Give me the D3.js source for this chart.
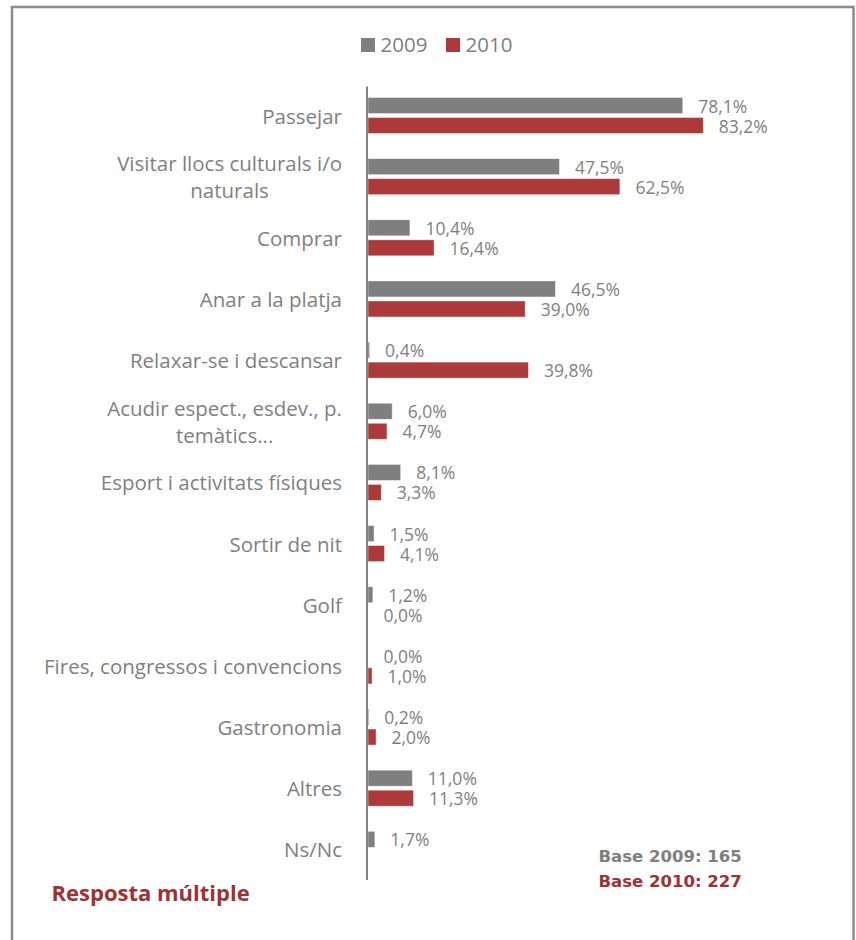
<!DOCTYPE html>
<html>
<head>
<meta charset="utf-8">
<script src="https://cdn.jsdelivr.net/npm/d3@7"></script>
<style>
  html, body { margin: 0; padding: 0; background: #fff; }
  svg { display: block; }
</style>
</head>
<body>
<script>
// Activitats realitzades durant l'estada (resposta múltiple), 2009 vs 2010
const categories = [
  "Passejar",
  "Visitar llocs culturals i/o\nnaturals",
  "Comprar",
  "Anar a la platja",
  "Relaxar-se i descansar",
  "Acudir espect., esdev., p.\ntemàtics...",
  "Esport i activitats físiques",
  "Sortir de nit",
  "Golf",
  "Fires, congressos i convencions",
  "Gastronomia",
  "Altres",
  "Ns/Nc"
];
const seriesNames = ["2009", "2010"];
const values2009 = [78.1, 47.5, 10.4, 46.5, 0.4, 6.0, 8.1, 1.5, 1.2, 0.0, 0.2, 11.0, 1.7];
const values2010 = [83.2, 62.5, 16.4, 39.0, 39.8, 4.7, 3.3, 4.1, 0.0, 1.0, 2.0, 11.3, null];
const baseNotes = ["Base 2009: 165", "Base 2010: 227"];
const footnote = "Resposta múltiple";

const W = 856, H = 940;
const GREY = "#7f7f7f";
const RED = "#ad3a3b";
const DARK_RED = "#a03034";
const TEXT = "#7f7f7f";
const FONT = "'Open Sans', sans-serif";

const svg = d3.select("body").append("svg")
  .attr("width", W).attr("height", H);

// outer frame
svg.append("rect")
  .attr("x", 12).attr("y", 7)
  .attr("width", 841.5).attr("height", 1000)
  .attr("fill", "none")
  .attr("stroke", "#8c8c8c")
  .attr("stroke-width", 2.5);

const x = d3.scaleLinear().domain([0, 100]).range([368, 771]);
const y = d3.scaleBand().domain(d3.range(categories.length)).range([86.5, 881.5]);
const ySub = d3.scaleBand().domain(seriesNames).range([11, 47]).paddingInner(0.2);
const colors = d3.scaleOrdinal().domain(seriesNames).range([GREY, RED]);

const rows = categories.map((c, i) => ({
  i, name: c,
  vals: [
    { s: "2009", v: values2009[i] },
    { s: "2010", v: values2010[i] }
  ].filter(d => d.v !== null)
}));

const fmt = v => d3.format(".1f")(v).replace(".", ",") + "%";

// bars and value labels
const g = svg.append("g");
const row = g.selectAll("g.row").data(rows).join("g")
  .attr("class", "row")
  .attr("transform", d => `translate(0,${y(d.i)})`);

row.selectAll("rect").data(d => d.vals).join("rect")
  .attr("x", x(0))
  .attr("y", d => ySub(d.s))
  .attr("width", d => x(d.v) - x(0))
  .attr("height", ySub.bandwidth())
  .attr("fill", d => colors(d.s))
  .attr("stroke", "#ffffff")
  .attr("stroke-opacity", 0.5)
  .attr("stroke-width", 0.8);

row.selectAll("text.val").data(d => d.vals).join("text")
  .attr("class", "val")
  .attr("x", d => x(d.v) + 15.5)
  .attr("y", d => ySub(d.s) + ySub.bandwidth() / 2 + 7)
  .attr("font-family", FONT)
  .attr("font-size", 17.5)
  .attr("fill", TEXT)
  .text(d => fmt(d.v));

// category labels (multi-line labels centred within a right-aligned block)
const labelRight = 342;
const lineH = 26.5;
row.each(function (d) {
  const lines = d.name.split("\n");
  const t = d3.select(this).append("text")
    .attr("font-family", FONT)
    .attr("font-size", 20.5)
    .attr("fill", TEXT);
  const cy = y.bandwidth() / 2;
  const spans = lines.map((ln, k) => t.append("tspan")
    .attr("x", labelRight)
    .attr("y", cy + 6.5 + (k - (lines.length - 1) / 2) * lineH)
    .attr("text-anchor", "end")
    .text(ln));
  if (lines.length > 1) {
    const widths = spans.map(s => s.node().getComputedTextLength());
    const maxW = d3.max(widths);
    spans.forEach(s => s.attr("text-anchor", "middle").attr("x", labelRight - maxW / 2));
  }
});

// vertical axis line
svg.append("line")
  .attr("x1", 367).attr("x2", 367)
  .attr("y1", y.range()[0]).attr("y2", y.range()[1] - 1.5)
  .attr("stroke", "#868686")
  .attr("stroke-width", 2);

// legend
const legendX = [361, 446];
const legend = svg.append("g");
seriesNames.forEach((s, k) => {
  legend.append("rect")
    .attr("x", legendX[k]).attr("y", 38)
    .attr("width", 14).attr("height", 14)
    .attr("fill", colors(s));
  legend.append("text")
    .attr("x", legendX[k] + 19.5).attr("y", 52.3)
    .attr("font-family", FONT)
    .attr("font-size", 20.5)
    .attr("fill", TEXT)
    .text(s);
});

// sample base notes
svg.selectAll("text.base").data(baseNotes).join("text")
  .attr("class", "base")
  .attr("x", 741.7)
  .attr("y", (d, k) => 861.7 + k * 25)
  .attr("text-anchor", "end")
  .attr("font-family", "'DejaVu Sans', sans-serif")
  .attr("font-weight", "bold")
  .attr("font-size", 16.5)
  .attr("fill", (d, k) => k === 0 ? GREY : DARK_RED)
  .text(d => d);

svg.append("text")
  .attr("x", 51.5).attr("y", 900.7)
  .attr("font-family", FONT)
  .attr("font-weight", "bold")
  .attr("font-size", 22)
  .attr("fill", DARK_RED)
  .text(footnote);
</script>
</body>
</html>
